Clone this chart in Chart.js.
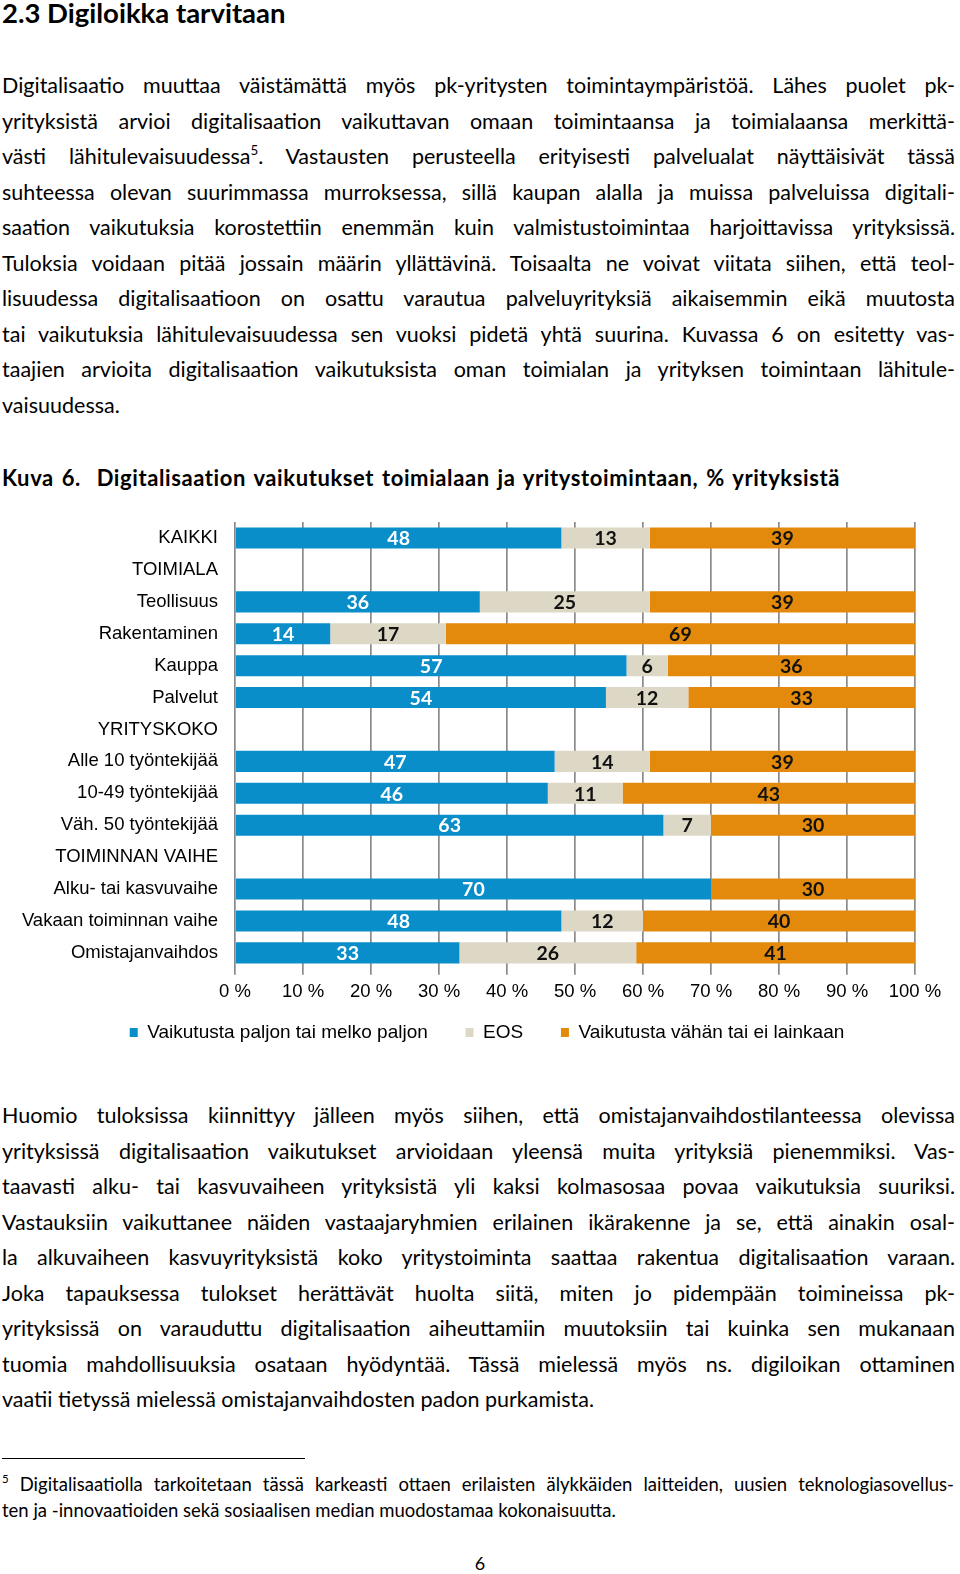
<!DOCTYPE html>
<html lang="fi">
<head>
<meta charset="utf-8">
<title>Digiloikka tarvitaan</title>
<script src="https://cdn.jsdelivr.net/npm/chart.js@4.4.1/dist/chart.umd.min.js"></script>
<style>
  html, body { margin: 0; padding: 0; background: #fff; }
  body { width: 960px; height: 1574px; position: relative; overflow: hidden; color: #000; font-family: Lato, "Open Sans", sans-serif; }
  h1 { position: absolute; left: 2px; top: -6px; margin: 0; font-size: 27.5px; font-weight: 700; line-height: 38px; }
  .para { position: absolute; left: 2px; width: 953px; font-size: 21.5px; line-height: 35.55px; }
  .para div { text-align: justify; text-align-last: justify; height: 35.55px; }
  .para div.last { text-align-last: left; }
  sup { font-size: 62%; line-height: 0; vertical-align: 0.7em; }
  .caption { position: absolute; left: 2px; top: 460px; width: 838px; font-size: 22px; font-weight: 700; line-height: 36px; letter-spacing: 0.6px; text-align: justify; text-align-last: justify; }
  #chartBox { position: absolute; left: 7px; top: 494px; width: 960px; height: 558px; }
  .rule { position: absolute; left: 2px; top: 1458px; width: 303px; border-top: 1.3px solid #000; }
  .foot { position: absolute; left: 2px; width: 952px; font-size: 18.5px; line-height: 26px; top: 1471px; }
  .foot div { text-align: justify; text-align-last: justify; height: 26px; }
  .foot div.last { text-align-last: left; }
  .pageno { position: absolute; left: 0; width: 960px; text-align: center; top: 1552px; font-size: 18px; }
</style>
</head>
<body>
<h1>2.3 Digiloikka tarvitaan</h1>

<div class="para" style="top:68px">
  <div>Digitalisaatio muuttaa väistämättä myös pk-yritysten toimintaympäristöä. Lähes puolet pk-</div>
  <div>yrityksistä arvioi digitalisaation vaikuttavan omaan toimintaansa ja toimialaansa merkittä-</div>
  <div>västi lähitulevaisuudessa<sup>5</sup>. Vastausten perusteella erityisesti palvelualat näyttäisivät tässä</div>
  <div>suhteessa olevan suurimmassa murroksessa, sillä kaupan alalla ja muissa palveluissa digitali-</div>
  <div>saation vaikutuksia korostettiin enemmän kuin valmistustoimintaa harjoittavissa yrityksissä.</div>
  <div>Tuloksia voidaan pitää jossain määrin yllättävinä. Toisaalta ne voivat viitata siihen, että teol-</div>
  <div>lisuudessa digitalisaatioon on osattu varautua palveluyrityksiä aikaisemmin eikä muutosta</div>
  <div>tai vaikutuksia lähitulevaisuudessa sen vuoksi pidetä yhtä suurina. Kuvassa 6 on esitetty vas-</div>
  <div>taajien arvioita digitalisaation vaikutuksista oman toimialan ja yrityksen toimintaan lähitule-</div>
  <div class="last">vaisuudessa.</div>
</div>

<div class="caption">Kuva 6.&nbsp; Digitalisaation vaikutukset toimialaan ja yritystoimintaan, % yrityksistä</div>

<div id="chartBox"><canvas id="myChart"></canvas></div>

<div class="para" style="top:1098px">
  <div>Huomio tuloksissa kiinnittyy jälleen myös siihen, että omistajanvaihdostilanteessa olevissa</div>
  <div>yrityksissä digitalisaation vaikutukset arvioidaan yleensä muita yrityksiä pienemmiksi. Vas-</div>
  <div>taavasti alku- tai kasvuvaiheen yrityksistä yli kaksi kolmasosaa povaa vaikutuksia suuriksi.</div>
  <div>Vastauksiin vaikuttanee näiden vastaajaryhmien erilainen ikärakenne ja se, että ainakin osal-</div>
  <div>la alkuvaiheen kasvuyrityksistä koko yritystoiminta saattaa rakentua digitalisaation varaan.</div>
  <div>Joka tapauksessa tulokset herättävät huolta siitä, miten jo pidempään toimineissa pk-</div>
  <div>yrityksissä on varauduttu digitalisaation aiheuttamiin muutoksiin tai kuinka sen mukanaan</div>
  <div>tuomia mahdollisuuksia osataan hyödyntää. Tässä mielessä myös ns. digiloikan ottaminen</div>
  <div class="last">vaatii tietyssä mielessä omistajanvaihdosten padon purkamista.</div>
</div>

<div class="rule"></div>
<div class="foot">
  <div><sup>5</sup> Digitalisaatiolla tarkoitetaan tässä karkeasti ottaen erilaisten älykkäiden laitteiden, uusien teknologiasovellus-</div>
  <div class="last">ten ja -innovaatioiden sekä sosiaalisen median muodostamaa kokonaisuutta.</div>
</div>
<div class="pageno">6</div>

<script>
// rivit (otsikkorivit ilman arvoja)
const categories = [
  "KAIKKI", "TOIMIALA", "Teollisuus", "Rakentaminen", "Kauppa", "Palvelut",
  "YRITYSKOKO", "Alle 10 työntekijää", "10-49 työntekijää", "Väh. 50 työntekijää",
  "TOIMINNAN VAIHE", "Alku- tai kasvuvaihe", "Vakaan toiminnan vaihe", "Omistajanvaihdos"
];
const seriesNames = ["Vaikutusta paljon tai melko paljon", "EOS", "Vaikutusta vähän tai ei lainkaan"];
const paljon = [48, null, 36, 14, 57, 54, null, 47, 46, 63, null, 70, 48, 33];
const eos    = [13, null, 25, 17, 6, 12, null, 14, 11, 7, null, 0, 12, 26];
const vahan  = [39, null, 39, 69, 36, 33, null, 39, 43, 30, null, 30, 40, 41];
const xTicks = [0, 10, 20, 30, 40, 50, 60, 70, 80, 90, 100];
const colors = ["#0a8ec9", "#ddd8c6", "#e38a0c"];

// 100 % pinottu: jokainen rivi skaalataan summaan (esim. Kauppa = 99)
const raw = [paljon, eos, vahan];
const totals = categories.map((c, i) => raw.reduce((s, arr) => s + (arr[i] || 0), 0));
const pct = raw.map(arr => arr.map((v, i) => v === null ? null : v / totals[i] * 100));

const chartFont = "'Liberation Sans', Arial, sans-serif";

// arvot palkkien keskelle (ei datalabels-pluginia)
const barLabels = {
  id: "barLabels",
  afterDatasetsDraw(chart) {
    const ctx = chart.ctx;
    ctx.save();
    ctx.font = "bold 19.5px Lato, sans-serif";
    ctx.textAlign = "center";
    ctx.textBaseline = "middle";
    chart.data.datasets.forEach((ds, i) => {
      chart.getDatasetMeta(i).data.forEach((bar, j) => {
        const v = raw[i][j];
        if (!v) return;
        ctx.fillStyle = i === 0 ? "#ffffff" : "#111111";
        ctx.fillText(String(v), (bar.x + bar.base) / 2, bar.y + 1);
      });
    });
    ctx.restore();
  }
};

const data = {
  labels: categories,
  datasets: seriesNames.map((name, i) => ({
    label: name,
    data: pct[i],
    backgroundColor: colors[i],
    borderWidth: 0,
    barPercentage: 0.66,
    categoryPercentage: 1
  }))
};

const config = {
  type: "bar",
  data: data,
  options: {
    indexAxis: "y",
    responsive: true,
    maintainAspectRatio: false,
    animation: false,
    layout: { padding: 0 },
    plugins: {
      legend: {
        position: "bottom",
        labels: {
          boxWidth: 8,
          boxHeight: 9,
          padding: 14,
          color: "#000",
          font: { family: chartFont, size: 19 },
          // isompi väli selitteiden välille (välilyönnit lopussa)
          generateLabels: (chart) => {
            const items = Chart.defaults.plugins.legend.labels.generateLabels(chart);
            items.forEach((it, k) => { if (k < items.length - 1) it.text = it.text + "\u2002\u2002\u2005"; });
            return items;
          }
        }
      },
      tooltip: { enabled: false }
    },
    scales: {
      x: {
        stacked: true,
        min: 0,
        max: 100,
        afterBuildTicks: (scale) => { scale.ticks = xTicks.map(v => ({ value: v })); },
        grid: { color: "#8a8a8a", lineWidth: 1.7, drawTicks: true, tickLength: 6, tickColor: "#8a8a8a" },
        border: { display: false },
        ticks: {
          padding: 6,
          color: "#000",
          font: { family: chartFont, size: 18.5 },
          callback: (v) => v + " %"
        }
      },
      y: {
        stacked: true,
        afterFit: (scale) => { scale.width = 228; },
        grid: { display: false, drawTicks: false },
        border: { display: false },
        ticks: {
          padding: 17,
          autoSkip: false,
          color: "#000",
          font: { family: chartFont, size: 18.5 }
        }
      },
      // tyhjä oikea reuna-akseli, jotta piirtoalue päättyy 100 %:iin
      yRight: {
        type: "category",
        position: "right",
        afterFit: (scale) => { scale.width = 52; },
        grid: { display: false, drawTicks: false },
        border: { display: false },
        ticks: { display: false }
      }
    }
  },
  plugins: [barLabels]
};

const context = document.getElementById("myChart").getContext("2d");
const chart = new Chart(context, config);
</script>
</body>
</html>
